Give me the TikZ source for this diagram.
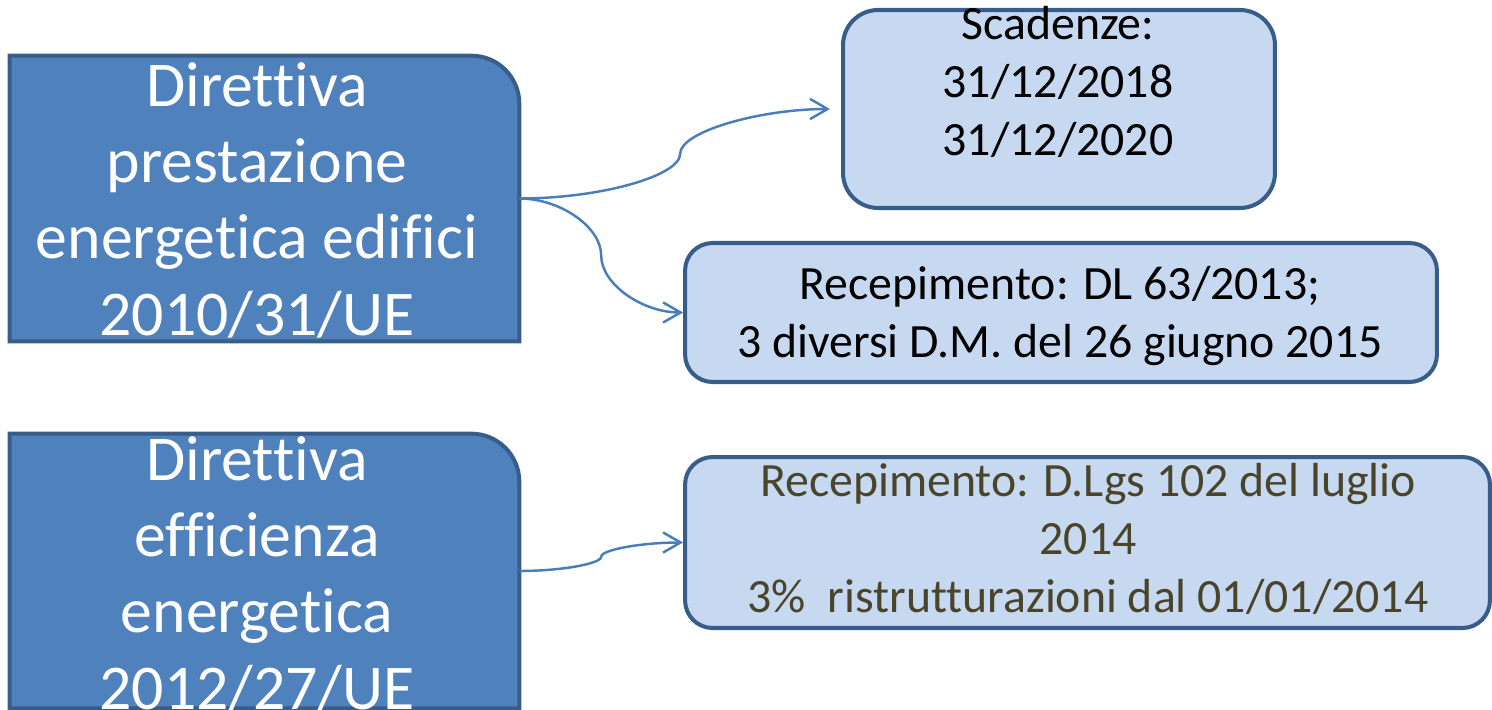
\documentclass[tikz,border=0pt]{standalone}
\usepackage{fontspec}
\setmainfont[Ligatures=NoCommon]{Carlito}
\usetikzlibrary{positioning}
\usetikzlibrary{arrows.meta}
\usetikzlibrary{calc}

\definecolor{dirfill}{HTML}{4F81BD}
\definecolor{dirline}{HTML}{385D8A}
\definecolor{notefill}{HTML}{C6D9F1}
\definecolor{conline}{HTML}{4A7EBB}
\definecolor{olivetext}{HTML}{4A452A}

\tikzset{
  dirbox/.style={draw=none, minimum width=10.18cm, inner sep=0pt},
  dirshape/.style={fill=dirfill, draw=dirline, line width=2.3pt},
  notebox/.style={fill=notefill, draw=dirline, line width=2.3pt, inner sep=0pt},
  bigtext/.style={white, align=center, anchor=base, inner sep=0pt,
    font=\fontsize{36.3}{43.3}\selectfont},
  smalltext/.style={align=center, anchor=base, inner sep=0pt,
    font=\fontsize{27.2}{32.9}\selectfont},
  curvecon/.style={conline, line width=1.4pt,
    -{Straight Barb[length=10pt,width=11.5pt]},
    to path={let \p1=(\tikztostart), \p2=(\tikztotarget) in
      .. controls ({(\x1+\x2)/2*0.5+\x1*0.5},\y1) and ({(\x1+\x2)/2},{0.75*\y1+0.25*\y2})
      .. ({(\x1+\x2)/2},{(\y1+\y2)/2})
      .. controls ({(\x1+\x2)/2},{0.25*\y1+0.75*\y2}) and ({(\x1+\x2)/2*0.5+\x2*0.5},\y2)
      .. (\tikztotarget)}}
}

\begin{document}
\begin{tikzpicture}[x=0.02cm,y=-0.02cm]

\useasboundingbox (0,0) rectangle (1492,710);

% left boxes
{
\node[dirbox, minimum height=5.7cm] (dir1) at (264.5,198.5) {};
\node[dirbox, minimum height=5.48cm] (dir2) at (264.5,571) {};

\draw[dirshape] (dir1.south west) -- (dir1.north west) -- ([xshift=-0.96cm]dir1.north east)
  arc[start angle=90, end angle=0, radius=0.96cm] -- (dir1.south east) -- cycle;
\draw[dirshape] (dir2.south west) -- (dir2.north west) -- ([xshift=-0.96cm]dir2.north east)
  arc[start angle=90, end angle=0, radius=0.96cm] -- (dir2.south east) -- cycle;
}

% right boxes
{
\node[notebox, rounded corners=0.7cm, minimum width=8.64cm, minimum height=3.96cm] (scad) at (1059,109) {};
\node[notebox, rounded corners=0.55cm, minimum width=15.04cm, minimum height=2.78cm] (recep) at (1061,312.5) {};
\node[notebox, rounded corners=0.55cm, minimum width=16.1cm, minimum height=3.42cm] (recepb) at (1087.5,542.5) {};
}

% nodes (anchored on the last line)
{
\node[bigtext] (dir1txt) at (257,335) {Direttiva\\prestazione\\energetica edifici\\2010/31/UE};
\node[bigtext] (dir2txt) at (257,709) {Direttiva\\efficienza\\energetica\\2012/27/UE};

\node[smalltext] (scadtxt) at (1058,155) {Scadenze:\\31/12/2018\\31/12/2020};
\node[smalltext] (receptxt) at (1060,357) {Recepimento: DL 63/2013;\\3 diversi D.M. del 26 giugno 2015};
\node[smalltext, olivetext] (recepbtxt) at (1088,612) {Recepimento: D.Lgs 102 del luglio\\2014\\3\%\ \ ristrutturazioni dal 01/01/2014};
}

% arrows
\draw[curvecon, shorten >=0.22cm] (dir1.east) to (scad.west);
\draw[curvecon] (dir1.east) to (recep.west);
\draw[curvecon] (dir2.east) to (recepb.west);

\end{tikzpicture}
\end{document}
